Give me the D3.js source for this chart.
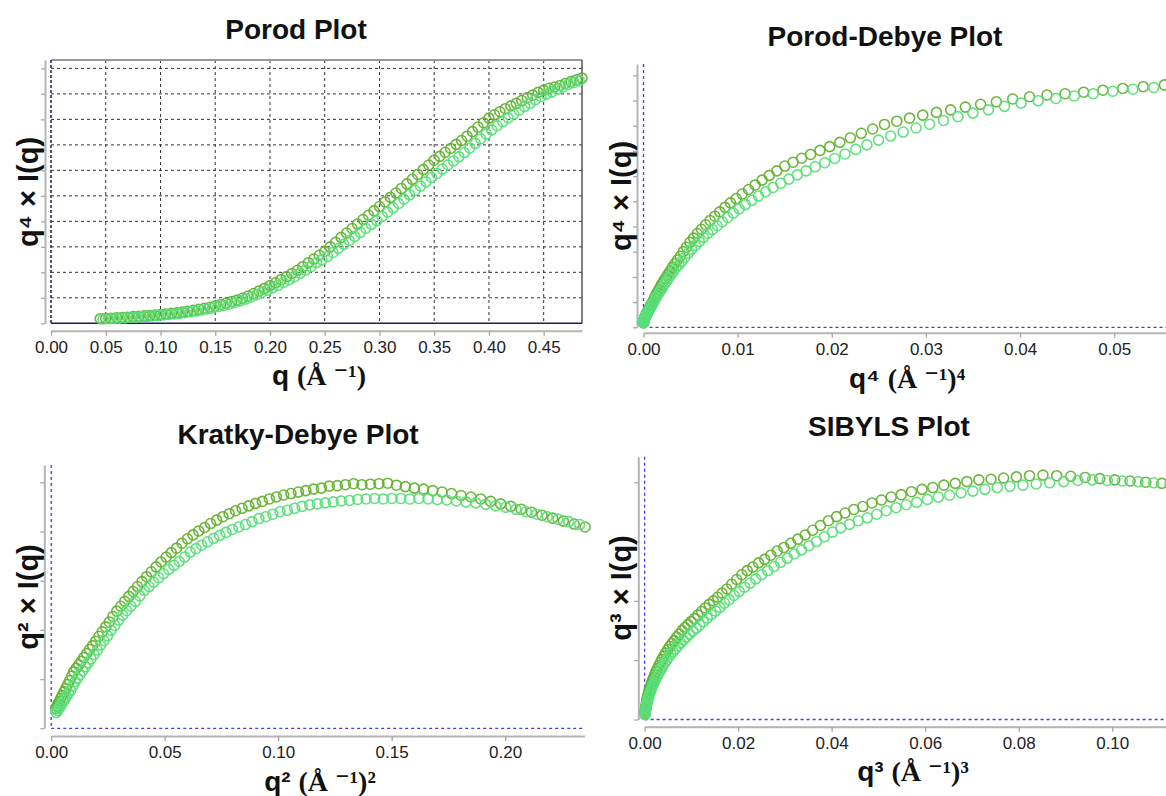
<!DOCTYPE html>
<html><head><meta charset="utf-8">
<script src="https://cdn.jsdelivr.net/npm/d3@7"></script>
<style>
body{margin:0;background:#fff;}
svg{display:block;font-family:"Liberation Sans",Arial,Helvetica,sans-serif;}
</style></head><body>
<svg id="c" width="1166" height="796"></svg>
<script>
// scattering vector q (Å^-1) of series A (darker green)
const qDark = [0.045,0.050,0.055,0.060,0.065,0.070,0.075,0.080,0.085,0.090,
0.095,0.100,0.105,0.110,0.115,0.120,0.125,0.130,0.135,0.140,
0.145,0.150,0.155,0.160,0.165,0.170,0.175,0.180,0.185,0.190,
0.195,0.200,0.205,0.210,0.215,0.220,0.225,0.230,0.235,0.240,
0.245,0.250,0.255,0.260,0.265,0.270,0.275,0.280,0.285,0.290,
0.295,0.300,0.305,0.310,0.315,0.320,0.325,0.330,0.335,0.340,
0.345,0.350,0.355,0.360,0.365,0.370,0.375,0.380,0.385,0.390,
0.395,0.400,0.405,0.410,0.415,0.420,0.425,0.430,0.435,0.440,
0.445,0.450,0.455,0.460,0.465,0.470,0.475,0.480,0.485];
// scattering vector q (Å^-1) of series B (lighter green)
const qLight = [0.0475,0.0525,0.0575,0.0625,0.0675,0.0725,0.0775,0.0825,0.0875,0.0925,
0.0975,0.1025,0.1075,0.1125,0.1175,0.1225,0.1275,0.1325,0.1375,0.1425,
0.1475,0.1525,0.1575,0.1625,0.1675,0.1725,0.1775,0.1825,0.1875,0.1925,
0.1975,0.2025,0.2075,0.2125,0.2175,0.2225,0.2275,0.2325,0.2375,0.2425,
0.2475,0.2525,0.2575,0.2625,0.2675,0.2725,0.2775,0.2825,0.2875,0.2925,
0.2975,0.3025,0.3075,0.3125,0.3175,0.3225,0.3275,0.3325,0.3375,0.3425,
0.3475,0.3525,0.3575,0.3625,0.3675,0.3725,0.3775,0.3825,0.3875,0.3925,
0.3975,0.4025,0.4075,0.4125,0.4175,0.4225,0.4275,0.4325,0.4375,0.4425,
0.4475,0.4525,0.4575,0.4625,0.4675,0.4725,0.4775,0.4825];

// q^4 x I(q)  (Porod and Porod-Debye plots), arbitrary units
const porodDark = [0.18,0.19,0.20,0.22,0.23,0.24,0.26,0.27,0.29,0.30,
0.32,0.34,0.36,0.39,0.41,0.44,0.47,0.51,0.55,0.59,
0.63,0.68,0.73,0.79,0.85,0.91,0.98,1.07,1.17,1.27,
1.37,1.48,1.59,1.71,1.83,1.95,2.08,2.22,2.37,2.52,
2.67,2.82,3.00,3.18,3.37,3.54,3.72,3.89,4.07,4.24,
4.41,4.58,4.76,4.94,5.11,5.29,5.47,5.65,5.84,6.03,
6.21,6.40,6.55,6.71,6.86,7.02,7.17,7.34,7.52,7.70,
7.87,8.05,8.18,8.30,8.42,8.53,8.63,8.74,8.85,8.95,
9.06,9.15,9.22,9.27,9.33,9.41,9.48,9.55,9.62];
const porodLight = [0.17,0.18,0.19,0.20,0.21,0.23,0.24,0.26,0.27,0.29,
0.31,0.33,0.35,0.37,0.39,0.42,0.45,0.48,0.52,0.56,
0.60,0.65,0.70,0.75,0.81,0.88,0.95,1.03,1.12,1.21,
1.30,1.39,1.49,1.60,1.71,1.83,1.96,2.09,2.23,2.38,
2.49,2.62,2.78,2.94,3.10,3.25,3.41,3.57,3.73,3.88,
4.03,4.19,4.36,4.53,4.70,4.87,5.04,5.21,5.38,5.55,
5.72,5.88,6.05,6.21,6.37,6.53,6.70,6.88,7.06,7.24,
7.43,7.59,7.75,7.91,8.06,8.21,8.36,8.50,8.63,8.77,
8.90,8.99,9.08,9.18,9.27,9.37,9.45,9.52];

// q^2 x I(q)  (Kratky-Debye plot)
const kratkyDark = [0.40,0.45,0.50,0.55,0.61,0.67,0.74,0.81,0.89,0.97,
1.06,1.15,1.22,1.29,1.36,1.44,1.52,1.60,1.68,1.77,
1.87,1.96,2.06,2.16,2.27,2.38,2.48,2.58,2.68,2.78,
2.88,2.98,3.08,3.18,3.28,3.38,3.48,3.57,3.66,3.76,
3.85,3.93,4.01,4.08,4.16,4.23,4.30,4.36,4.42,4.47,
4.52,4.57,4.61,4.66,4.70,4.74,4.77,4.80,4.83,4.86,
4.88,4.92,4.93,4.95,4.97,4.95,4.96,4.97,4.98,4.94,
4.91,4.88,4.86,4.83,4.80,4.77,4.73,4.70,4.66,4.61,
4.56,4.51,4.45,4.39,4.33,4.27,4.21,4.15,4.09];
const kratkyLight = [0.32,0.36,0.40,0.44,0.49,0.54,0.59,0.65,0.71,0.77,
0.86,0.95,1.02,1.09,1.17,1.25,1.33,1.41,1.50,1.59,
1.69,1.78,1.88,1.99,2.09,2.20,2.30,2.39,2.48,2.58,
2.69,2.80,2.88,2.97,3.06,3.14,3.23,3.31,3.39,3.48,
3.58,3.65,3.72,3.79,3.86,3.92,3.98,4.04,4.09,4.14,
4.20,4.26,4.30,4.35,4.40,4.43,4.47,4.51,4.54,4.56,
4.58,4.60,4.62,4.63,4.65,4.66,4.67,4.66,4.67,4.67,
4.66,4.67,4.66,4.65,4.64,4.62,4.60,4.58,4.55,4.52,
4.49,4.45,4.40,4.35,4.30,4.25,4.20,4.14];

// q^3 x I(q)  (SIBYLS plot)
const sibylsDark = [0.10,0.13,0.16,0.19,0.22,0.26,0.30,0.34,0.38,0.42,
0.46,0.50,0.54,0.58,0.62,0.67,0.71,0.76,0.81,0.86,
0.91,0.96,1.01,1.07,1.12,1.18,1.23,1.28,1.33,1.39,
1.44,1.50,1.55,1.60,1.65,1.70,1.76,1.82,1.88,1.94,
2.00,2.06,2.13,2.20,2.28,2.36,2.44,2.51,2.57,2.64,
2.70,2.77,2.84,2.90,2.97,3.04,3.11,3.19,3.27,3.35,
3.42,3.48,3.54,3.59,3.65,3.70,3.75,3.79,3.84,3.88,
3.91,3.95,3.98,4.01,4.04,4.05,4.07,4.09,4.11,4.12,
4.11,4.10,4.08,4.06,4.04,4.02,4.00,3.98,3.96];
const sibylsLight = [0.08,0.11,0.13,0.16,0.19,0.22,0.25,0.29,0.32,0.36,
0.40,0.43,0.47,0.51,0.55,0.59,0.63,0.67,0.72,0.76,
0.81,0.85,0.90,0.95,1.00,1.05,1.10,1.14,1.19,1.24,
1.29,1.34,1.39,1.44,1.49,1.54,1.59,1.65,1.71,1.77,
1.83,1.89,1.96,2.02,2.09,2.16,2.23,2.30,2.37,2.44,
2.51,2.58,2.65,2.72,2.79,2.86,2.93,3.00,3.08,3.16,
3.23,3.29,3.35,3.40,3.46,3.52,3.57,3.62,3.66,3.71,
3.75,3.78,3.82,3.85,3.88,3.91,3.93,3.95,3.97,3.99,
4.01,4.03,4.04,4.03,4.02,4.01,3.99,3.97];

// tick values
const porodXTicks = [0,0.05,0.10,0.15,0.20,0.25,0.30,0.35,0.40,0.45];
const porodYTicks = [0,1,2,3,4,5,6,7,8,9,10];
const pdXTicks = [0,0.01,0.02,0.03,0.04,0.05];
const pdYTicks = [0,1,2,3,4,5,6,7,8,9,10];
const kdXTicks = [0,0.05,0.10,0.15,0.20];
const kdYTicks = [0,1,2,3,4,5];
const sbXTicks = [0,0.02,0.04,0.06,0.08,0.10];
const sbYTicks = [0,1,2,3,4];

const titles = ["Porod Plot","Porod-Debye Plot","Kratky-Debye Plot","SIBYLS Plot"];
const xTitleHead = ["q","q⁴","q²","q³"];
const xTitleUnit = ["(Å ⁻¹)","(Å ⁻¹)⁴","(Å ⁻¹)²","(Å ⁻¹)³"];
const yTitles = ["q⁴ × I(q)","q⁴ × I(q)","q² × I(q)","q³ × I(q)"];
const seriesNames = ["Sample A","Sample B"];

const DARK = "#63b230", LIGHT = "#58df79";
const svg = d3.select("#c");

const panels = [
 {t:0, pow:1, dark:porodDark, light:porodLight, xd:[0,0.485], xr:[51,582], yd:[0,10.33], yr:[323.3,60],
  xt:porodXTicks, yt:porodYTicks, ax:45, ay:330.7, tx:296, ty:39, xtx:319, xty:385, ytx:28, yty:192, grid:true},
 {t:1, pow:4, dark:porodDark, light:porodLight, xd:[0,0.0555], xr:[643.5,1166], yd:[0,10.45], yr:[327.3,64],
  xt:pdXTicks, yt:pdYTicks, ax:637, ay:332.7, tx:885, ty:46, xtx:907, xty:388, ytx:621, yty:196, grid:false},
 {t:2, pow:2, dark:kratkyDark, light:kratkyLight, xd:[0,0.235], xr:[51.2,584.6], yd:[0,5.35], yr:[728.3,465],
  xt:kdXTicks, yt:kdYTicks, ax:44.3, ay:736, tx:298, ty:444, xtx:320, xty:791, ytx:28, yty:597, grid:false},
 {t:3, pow:3, dark:sibylsDark, light:sibylsLight, xd:[0,0.1115], xr:[644.6,1166], yd:[0,4.43], yr:[719.5,456.7],
  xt:sbXTicks, yt:sbYTicks, ax:638.3, ay:726.7, tx:889, ty:436, xtx:913, xty:781, ytx:621, yty:588, grid:false}
];

panels.forEach(p => {
  const x = d3.scaleLinear().domain(p.xd).range(p.xr);
  const y = d3.scaleLinear().domain(p.yd).range(p.yr);
  const g = svg.append("g");
  const x0 = x(0), x1 = p.xr[1], y0 = y(0), yTop = p.yr[1];

  if (p.grid) {
    g.selectAll(".vg").data(p.xt.filter(d => d > 0)).join("line")
      .attr("x1", d => x(d)).attr("x2", d => x(d)).attr("y1", yTop).attr("y2", y0)
      .attr("stroke", "#333").attr("stroke-width", 1).attr("stroke-dasharray", "3,3");
    g.selectAll(".hg").data(p.yt.filter(d => d > 0)).join("line")
      .attr("x1", x0).attr("x2", x1).attr("y1", d => y(d)).attr("y2", d => y(d))
      .attr("stroke", "#333").attr("stroke-width", 1).attr("stroke-dasharray", "3,3");
    g.append("line").attr("x1", x0).attr("x2", x1).attr("y1", yTop).attr("y2", yTop)
      .attr("stroke", "#999").attr("stroke-width", 2);
    g.append("line").attr("x1", x1).attr("x2", x1).attr("y1", yTop).attr("y2", y0)
      .attr("stroke", "#555").attr("stroke-width", 1.5);
    g.append("line").attr("x1", x0).attr("x2", x1).attr("y1", y0).attr("y2", y0)
      .attr("stroke", "#1d1d5e").attr("stroke-width", 1.5);
    g.append("line").attr("x1", x0).attr("x2", x0).attr("y1", yTop).attr("y2", y0)
      .attr("stroke", "#1d1d5e").attr("stroke-width", 1.5).attr("stroke-dasharray", "3,2");
  } else {
    g.append("line").attr("x1", x0).attr("x2", x0).attr("y1", yTop).attr("y2", y0)
      .attr("stroke", "#3a3cff").attr("stroke-width", 1.3).attr("stroke-dasharray", "3,3");
    g.append("line").attr("x1", x0).attr("x2", x1).attr("y1", y0).attr("y2", y0)
      .attr("stroke", "#3a3cff").attr("stroke-width", 1.3).attr("stroke-dasharray", "3,3");
  }

  // axes
  const xa = g.append("g").attr("transform", `translate(0,${p.ay})`)
    .call(d3.axisBottom(x).tickValues(p.xt).tickFormat(d3.format(".2f")).tickSize(5).tickSizeOuter(0).tickPadding(5));
  const ya = g.append("g").attr("transform", `translate(${p.ax},0)`)
    .call(d3.axisLeft(y).tickValues(p.yt).tickFormat("").tickSize(4).tickSizeOuter(0));
  [xa, ya].forEach(a => {
    a.select(".domain").attr("stroke", "#b5b5b5").attr("stroke-width", 2);
    a.selectAll(".tick line").attr("stroke", "#a8a8a8").attr("stroke-width", 1.3);
    a.selectAll("text").attr("fill", "#222").style("font-size", "17px")
      .style("font-family", '"Liberation Sans",Arial,sans-serif');
  });

  // markers
  [[qDark, p.dark, DARK], [qLight, p.light, LIGHT]].forEach(([qs, vals, col], si) => {
    const pts = qs.map((qq, i) => ({xv: Math.pow(qq, p.pow), yv: vals[i]}));
    g.append("g").attr("class", "series").attr("data-name", seriesNames[si])
      .selectAll("circle").data(pts).join("circle")
      .attr("cx", d => x(d.xv)).attr("cy", d => y(d.yv)).attr("r", 5)
      .attr("fill", "none").attr("stroke", col).attr("stroke-width", 1.6).attr("stroke-opacity", 0.95);
  });

  // titles
  g.append("text").attr("x", p.tx).attr("y", p.ty).attr("text-anchor", "middle")
    .style("font-size", "28px").style("font-weight", "bold").attr("fill", "#111").text(titles[p.t]);
  const xt = g.append("text").attr("x", p.xtx).attr("y", p.xty).attr("text-anchor", "middle")
    .style("font-size", "28px").style("font-weight", "bold").attr("fill", "#111");
  xt.append("tspan").text(xTitleHead[p.t] + " ");
  xt.append("tspan").style("font-family", '"Liberation Serif","DejaVu Serif",serif').text(xTitleUnit[p.t]);
  g.append("text").attr("transform", `translate(${p.ytx},${p.yty}) rotate(-90)`)
    .attr("text-anchor", "middle").attr("dominant-baseline", "central")
    .style("font-size", "29px").style("font-weight", "bold").attr("fill", "#111").text(yTitles[p.t]);
});
</script>
</body></html>
